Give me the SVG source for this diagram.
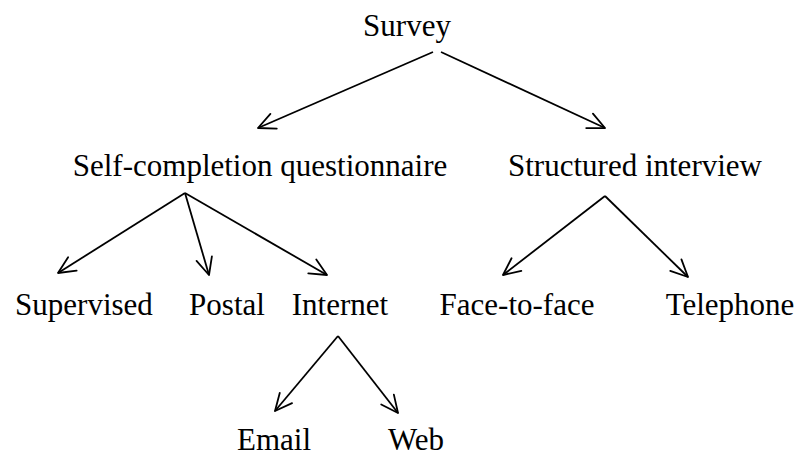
<svg xmlns="http://www.w3.org/2000/svg" width="798" height="457" viewBox="0 0 798 457">
<style>
text{font-family:"Liberation Serif","Times New Roman",serif;font-size:31px;fill:#000;text-anchor:middle}
.c line{stroke:#000;stroke-width:1.8;fill:none;marker-end:url(#arr)}
</style>
<defs>
<marker id="arr" markerUnits="userSpaceOnUse" markerWidth="40" markerHeight="40" viewBox="-20 -20 40 40" refX="0" refY="0" orient="auto">
<path d="M -17 -8 L 0 0 L -17 8" fill="none" stroke="#000" stroke-width="1.8" stroke-linejoin="round" stroke-linecap="round"/>
</marker>
</defs>
<rect width="798" height="457" fill="#fff"/>
<g id="survey"><text x="407" y="36">Survey</text></g>
<g id="self"><text x="260" y="176">Self-completion questionnaire</text></g>
<g id="structured"><text x="635" y="176">Structured interview</text></g>
<g id="supervised"><text x="84" y="315">Supervised</text></g>
<g id="postal"><text x="227" y="315">Postal</text></g>
<g id="internet"><text x="340" y="315">Internet</text></g>
<g id="face"><text x="517" y="315">Face-to-face</text></g>
<g id="telephone"><text x="730" y="315">Telephone</text></g>
<g id="email"><text x="274" y="450">Email</text></g>
<g id="web"><text x="416" y="450">Web</text></g>
<g class="c" id="connectors">
<line x1="433" y1="52" x2="258" y2="128"/>
<line x1="441" y1="52" x2="605" y2="128"/>
<line x1="185" y1="193" x2="58" y2="273"/>
<line x1="185" y1="193" x2="209" y2="275"/>
<line x1="185" y1="193" x2="327" y2="275"/>
<line x1="605" y1="196" x2="503" y2="275"/>
<line x1="605" y1="196" x2="688" y2="277"/>
<line x1="338" y1="336" x2="275" y2="411"/>
<line x1="338" y1="336" x2="398" y2="413"/>
</g>
</svg>
